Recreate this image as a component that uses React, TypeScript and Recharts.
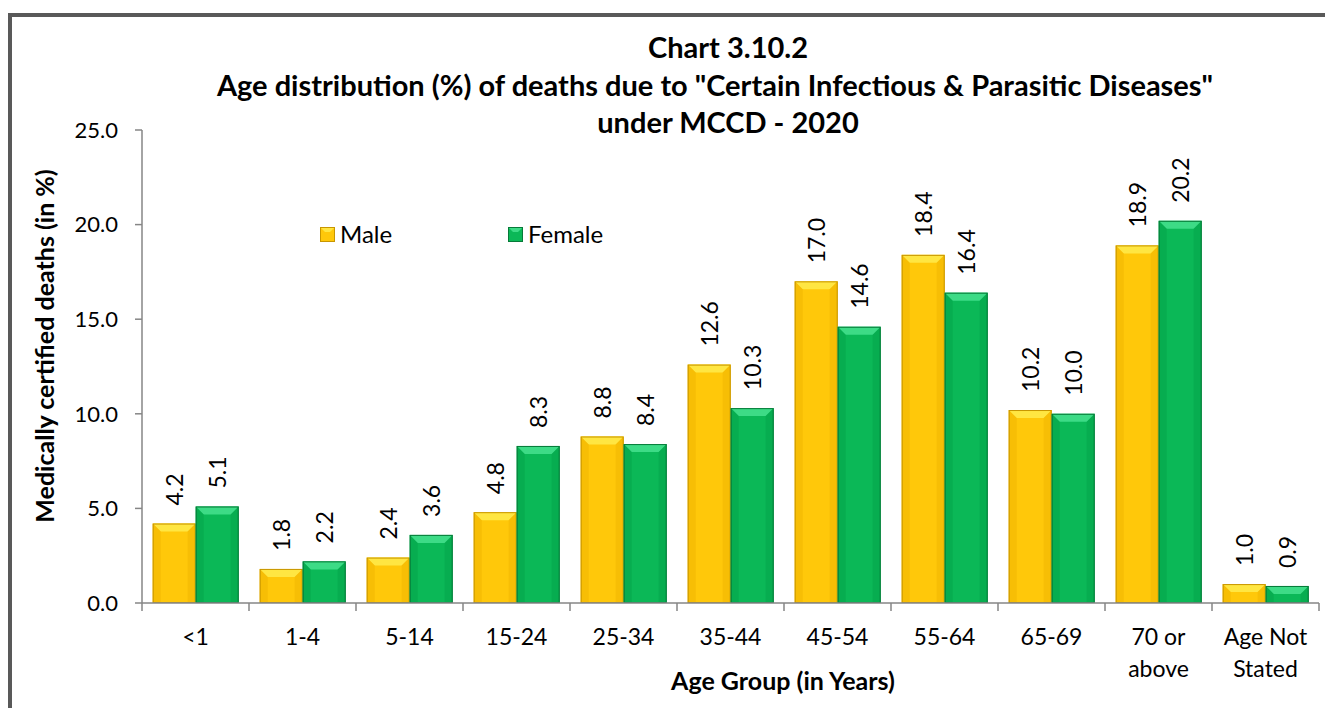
import React from 'react';
import { BarChart, Bar, XAxis, YAxis, LabelList, Legend } from 'recharts';

const categories = ['<1', '1-4', '5-14', '15-24', '25-34', '35-44', '45-54', '55-64', '65-69', '70 or\nabove', 'Age Not\nStated'];
const maleValues = [4.2, 1.8, 2.4, 4.8, 8.8, 12.6, 17.0, 18.4, 10.2, 18.9, 1.0];
const femaleValues = [5.1, 2.2, 3.6, 8.3, 8.4, 10.3, 14.6, 16.4, 10.0, 20.2, 0.9];
const yTicks = [0, 5, 10, 15, 20, 25];
const titleLines = ['Chart 3.10.2', 'Age distribution (%) of deaths due to "Certain Infectious & Parasitic Diseases"', 'under MCCD - 2020'];
const titleCenters = [728, 715, 728];

const data = categories.map((c, i) => ({ cat: c, Male: maleValues[i], Female: femaleValues[i] }));

const W = 1325;
const H = 708;
const PLOT_LEFT = 142;
const PLOT_RIGHT = 1319;
const BAND = (PLOT_RIGHT - PLOT_LEFT) / categories.length;
const FONT = 'Lato, "Open Sans", sans-serif';

const colors = {
  Male: { base: '#FFC80A', top: '#FFE642', side: '#F0B400', edge: '#C89600' },
  Female: { base: '#0BB857', top: '#3DDB86', side: '#04A24A', edge: '#067A38' },
};

const makeShape = (key: 'Male' | 'Female') => (props: any) => {
  const { x, y, width, height } = props;
  if (!height || height <= 0) return <g />;
  const c = colors[key];
  const b = Math.min(8, height / 2);
  return (
    <g>
      <rect x={x} y={y} width={width} height={height} fill={c.base} />
      <polygon points={`${x},${y} ${x + width},${y} ${x + width - b},${y + b} ${x + b},${y + b}`} fill={c.top} />
      <polygon points={`${x},${y} ${x + b},${y + b} ${x + b},${y + height} ${x},${y + height}`} fill={c.side} opacity={0.5} />
      <polygon points={`${x + width},${y} ${x + width - b},${y + b} ${x + width - b},${y + height} ${x + width},${y + height}`} fill={c.side} opacity={0.5} />
      <rect x={x + 0.5} y={y + 0.5} width={width - 1} height={height - 1} fill="none" stroke={c.edge} strokeWidth={1} />
    </g>
  );
};

const renderValue = (props: any) => {
  const { x, y, width, value } = props;
  const cx = x + width / 2;
  const ty = y - 18;
  return (
    <text x={cx} y={ty} transform={`rotate(-90, ${cx}, ${ty})`} textAnchor="start" dominantBaseline="central"
      fontSize={23} fontFamily={FONT} fill="#000">
      {Number(value).toFixed(1)}
    </text>
  );
};

const XTick = (props: any) => {
  const { x, payload, index } = props;
  const lines = String(payload.value).split('\n');
  const left = x - BAND / 2;
  return (
    <g>
      <line x1={left} y1={603} x2={left} y2={611} stroke="#868686" strokeWidth={1.5} />
      {index === categories.length - 1 && (
        <line x1={x + BAND / 2} y1={603} x2={x + BAND / 2} y2={611} stroke="#868686" strokeWidth={1.5} />
      )}
      {lines.map((l, i) => (
        <text key={i} x={x} y={645 + i * 32} textAnchor="middle" fontSize={23} fontFamily={FONT} fill="#000">
          {l}
        </text>
      ))}
    </g>
  );
};

const LegendIcon = ({ k }: { k: 'Male' | 'Female' }) => {
  const c = colors[k];
  return (
    <svg width={15} height={15} style={{ verticalAlign: 'middle', marginRight: 5, position: 'relative', top: -2 }}>
      <rect x={0} y={0} width={15} height={15} fill={c.base} />
      <polygon points="0,0 15,0 10,5 5,5" fill={c.top} />
      <rect x={0.5} y={0.5} width={14} height={14} fill="none" stroke={c.edge} />
    </svg>
  );
};

const renderLegend = () => (
  <div style={{ position: 'relative', height: 30, fontFamily: FONT, fontSize: 24, color: '#000', lineHeight: '30px' }}>
    <span style={{ position: 'absolute', left: 320, top: 0, whiteSpace: 'nowrap' }}>
      <LegendIcon k="Male" />Male
    </span>
    <span style={{ position: 'absolute', left: 508, top: 0, whiteSpace: 'nowrap' }}>
      <LegendIcon k="Female" />Female
    </span>
  </div>
);

export default function App() {
  return (
    <div style={{ position: 'absolute', left: 0, top: 0, width: W, height: H, overflow: 'hidden', background: '#fff' }}>
      <div style={{ position: 'absolute', left: 8, top: 13, width: 1400, height: 800, border: '4px solid #595959', boxSizing: 'border-box' }} />
      <svg style={{ position: 'absolute', left: 0, top: 0 }} width={W} height={H}>
        {titleLines.map((t, i) => (
          <text key={i} x={titleCenters[i]} y={58 + i * 37.5} textAnchor="middle" fontSize={29} fontWeight="bold" fontFamily={FONT} fill="#000">
            {t}
          </text>
        ))}
        <text x={54} y={346} transform="rotate(-90, 54, 346)" textAnchor="middle" fontSize={25} fontWeight="bold" fontFamily={FONT} fill="#000">
          Medically certified deaths (in %)
        </text>
        <text x={783} y={690} textAnchor="middle" fontSize={25} fontWeight="bold" fontFamily={FONT} fill="#000">
          Age Group (in Years)
        </text>
      </svg>
      <div style={{ position: 'absolute', left: 0, top: 0 }}>
        <BarChart width={W} height={H} data={data} margin={{ top: 130, right: W - PLOT_RIGHT, left: 82, bottom: 45 }}
          barCategoryGap="10%" barGap={0}>
          <XAxis dataKey="cat" height={60} interval={0} tickLine={false} tick={<XTick />}
            axisLine={{ stroke: '#868686', strokeWidth: 1.5 }} />
          <YAxis width={60} domain={[0, 25]} ticks={yTicks} tickFormatter={(v: number) => v.toFixed(1)}
            tick={{ fontSize: 22, fontFamily: FONT, fill: '#000' }} tickSize={7} tickMargin={17}
            axisLine={{ stroke: '#868686', strokeWidth: 1.5 }} tickLine={{ stroke: '#868686', strokeWidth: 1.5 }} />
          <Legend layout="horizontal" verticalAlign="middle" align="center" content={renderLegend}
            wrapperStyle={{ top: 219, left: 0, width: W }} />
          <Bar dataKey="Male" isAnimationActive={false} shape={makeShape('Male')}>
            <LabelList dataKey="Male" content={renderValue} />
          </Bar>
          <Bar dataKey="Female" isAnimationActive={false} shape={makeShape('Female')}>
            <LabelList dataKey="Female" content={renderValue} />
          </Bar>
        </BarChart>
      </div>
    </div>
  );
}
